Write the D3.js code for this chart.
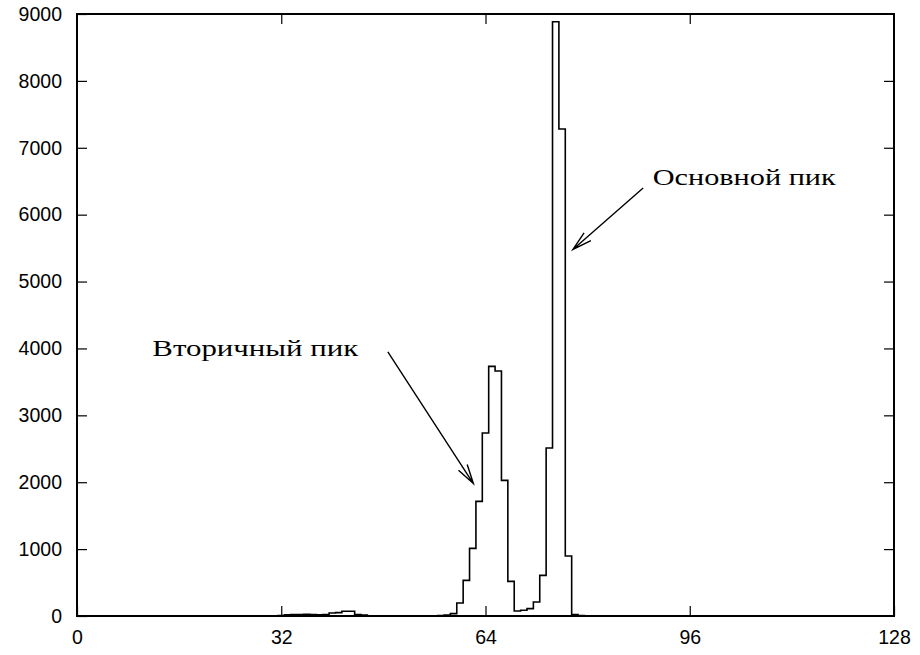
<!DOCTYPE html>
<html>
<head>
<meta charset="utf-8">
<script src="https://cdn.jsdelivr.net/npm/d3@7"></script>
<style>
  body { margin: 0; background: #fff; }
  .tick text { font-family: "Liberation Sans", Arial, sans-serif; font-size: 19.5px; fill: #000; }
  .note { font-family: "Liberation Serif", "DejaVu Serif", serif; font-size: 23px; fill: #000; }
</style>
</head>
<body>
<div id="chart"></div>
<script>
(function () {
    var width = 920, height = 655;
    var margin = {left: 77, right: 26, top: 14, bottom: 39};

    // bin centres and counts, all other bins are 0
    var binCenters = [30, 31, 32, 33, 34, 35, 36, 37, 38, 39, 40, 41, 42, 43, 44, 45, 46,
                      55, 56, 57, 58, 59, 60, 61, 62, 63, 64, 65, 66, 67, 68, 69, 70,
                      71, 72, 73, 74, 75, 76, 77, 78, 79, 80];
    var counts = [0, 0, 5, 18, 20, 20, 25, 20, 18, 20, 45, 50, 70, 72, 20, 15, 0,
                  0, 2, 8, 15, 35, 194, 533, 1011, 1714, 2735, 3732, 3662, 2028, 518, 75, 85,
                  110, 209, 608, 2511, 8885, 7280, 897, 20, 5, 0];

    var xTicks = [0, 32, 64, 96, 128];
    var yTicks = [0, 1000, 2000, 3000, 4000, 5000, 6000, 7000, 8000, 9000];

    var notes = [
        {text: "Вторичный пик", x: 11.8, y: 3880, len: 206},
        {text: "Основной пик", x: 90.2, y: 6450, len: 183}
    ];
    var arrows = [
        {x1: 48.7, y1: 3950, x2: 62.1, y2: 1980},
        {x1: 88.7, y1: 6400, x2: 77.7, y2: 5480}
    ];

    var svg = d3.select("#chart")
        .append("svg")
        .attr("width", width)
        .attr("height", height);

    var x = d3.scaleLinear().domain([0, 128]).range([margin.left, width - margin.right]);
    var y = d3.scaleLinear().domain([0, 9000]).range([height - margin.bottom, margin.top]);

    var tickLen = 10;

    // axes, ticks mirrored inside on all four sides
    svg.append("g")
        .attr("transform", "translate(0," + y(0) + ")")
        .call(d3.axisBottom(x).tickValues(xTicks).tickSize(-tickLen).tickPadding(14))
        .call(g => g.select(".domain").remove());
    svg.append("g")
        .attr("transform", "translate(0," + y(9000) + ")")
        .call(d3.axisTop(x).tickValues(xTicks.slice(1, -1)).tickSize(-tickLen).tickFormat(""))
        .call(g => g.select(".domain").remove());
    svg.append("g")
        .attr("transform", "translate(" + x(0) + ",0)")
        .call(d3.axisLeft(y).tickValues(yTicks).tickSize(-tickLen).tickPadding(15).tickFormat(d3.format("d")))
        .call(g => g.select(".domain").remove());
    svg.append("g")
        .attr("transform", "translate(" + x(128) + ",0)")
        .call(d3.axisRight(y).tickValues(yTicks.slice(1, -1)).tickSize(-tickLen).tickFormat(""))
        .call(g => g.select(".domain").remove());

    svg.selectAll(".tick line").attr("stroke", "#000").attr("stroke-width", 1.2);

    var pts = [[0, 0]];
    binCenters.forEach(function (c, i) { pts.push([c, counts[i]]); });
    pts.push([128, 0]);

    var line = d3.line()
        .x(d => x(d[0]))
        .y(d => y(d[1]))
        .curve(d3.curveStep);

    svg.append("path")
        .attr("d", line(pts))
        .attr("fill", "none")
        .attr("stroke", "#000")
        .attr("stroke-width", 1.6);

    // frame
    svg.append("rect")
        .attr("x", x(0)).attr("y", y(9000))
        .attr("width", x(128) - x(0)).attr("height", y(0) - y(9000))
        .attr("fill", "none").attr("stroke", "#000").attr("stroke-width", 2);

    // arrows with open heads
    var headLen = 20, headAng = 15 * Math.PI / 180;
    arrows.forEach(function (a) {
        var sx = x(a.x1), sy = y(a.y1), ex = x(a.x2), ey = y(a.y2);
        var ang = Math.atan2(sy - ey, sx - ex);
        var h1 = [ex + headLen * Math.cos(ang + headAng), ey + headLen * Math.sin(ang + headAng)];
        var h2 = [ex + headLen * Math.cos(ang - headAng), ey + headLen * Math.sin(ang - headAng)];
        svg.append("path")
            .attr("d", "M" + sx + "," + sy + "L" + ex + "," + ey +
                       "M" + h1[0] + "," + h1[1] + "L" + ex + "," + ey + "L" + h2[0] + "," + h2[1])
            .attr("fill", "none")
            .attr("stroke", "#000")
            .attr("stroke-width", 1.4);
    });

    svg.selectAll(".note")
        .data(notes)
        .enter()
        .append("text")
        .attr("class", "note")
        .attr("x", d => x(d.x))
        .attr("y", d => y(d.y))
        .attr("textLength", d => d.len)
        .attr("lengthAdjust", "spacingAndGlyphs")
        .text(d => d.text);
})();
</script>
</body>
</html>
